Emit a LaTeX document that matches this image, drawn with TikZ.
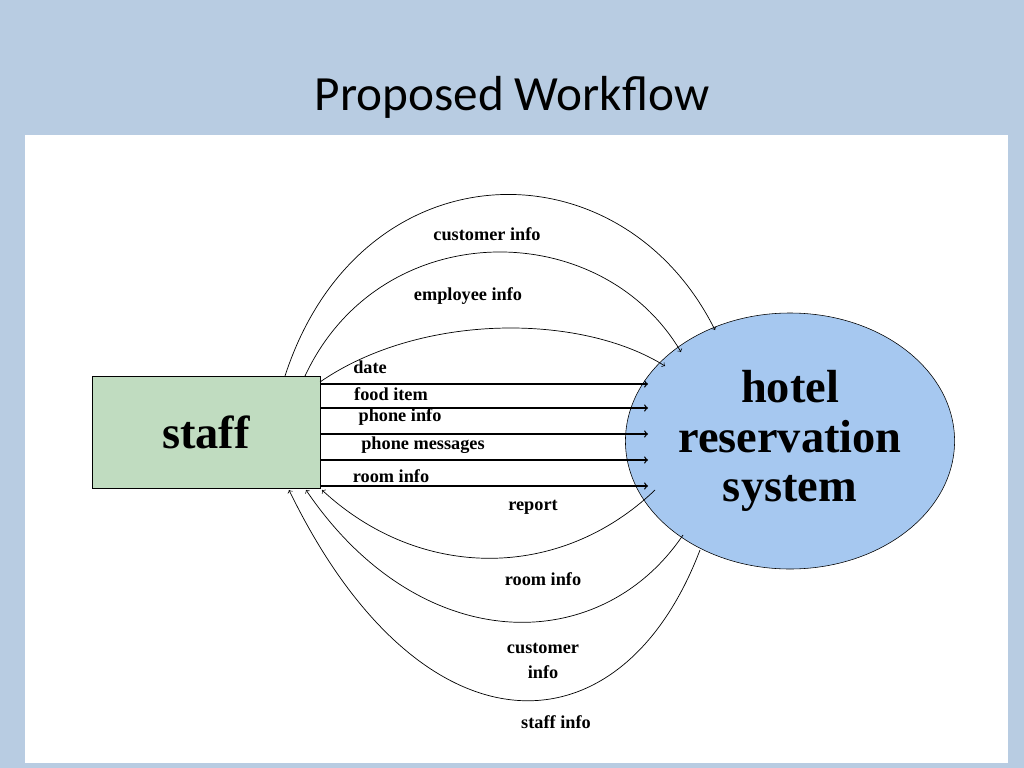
\documentclass[tikz,border=0pt]{standalone}
\usepackage{fontspec}
\setmainfont{Liberation Serif}
\newfontfamily\titlefont{Carlito}
\usetikzlibrary{shapes.geometric}
\definecolor{slideblue}{HTML}{B8CCE2}
\definecolor{staffgreen}{HTML}{C0DCC0}
\definecolor{hotelblue}{HTML}{A6C8F0}
\tikzset{
  flow/.style={->,line width=0.5pt},
  flat/.style={->,line width=0.9pt},
  lbl/.style={font=\bfseries\fontsize{13}{14}\selectfont,inner sep=0pt}
}
\begin{document}
\begin{tikzpicture}[x=0.025cm,y=-0.025cm]
\useasboundingbox (0,0) rectangle (1024,768);
\fill[slideblue] (0,0) rectangle (1024,768);
\fill[white] (25,135) rectangle (1008,763);
\node (title) at (512,97) {\titlefont\fontsize{35}{40}\selectfont Proposed Workflow};

\node[draw,fill=staffgreen,minimum width=228*0.025cm,minimum height=112*0.025cm,
      font=\bfseries\fontsize{33}{36}\selectfont] (staff) at (206,432) {staff};
\node[draw,ellipse,fill=hotelblue,minimum width=300*0.025cm,minimum height=256*0.025cm,
      align=center,font=\bfseries\fontsize{33}{35}\selectfont] (hrs) at (790,441)
      {hotel\\reservation\\system};

% ends on the staff box
\coordinate (s1) at (285,376);
\coordinate (s2) at (305,376);
\coordinate (s3) at (320,382);
\coordinate (b1) at (322,490);
\coordinate (b2) at (306,490);
\coordinate (b3) at (289,490);
% ends on the ellipse
\coordinate (h1) at (715,330);
\coordinate (h2) at (681,352);
\coordinate (h3) at (665,366);
\coordinate (r1) at (655,490);
\coordinate (r2) at (683,535);
\coordinate (r3) at (700,550);

% upper arcs
\draw[flow] (s1) .. controls (360,145) and (620,140) .. (h1);
\draw[flow] (s2) .. controls (380,215) and (600,215) .. (h2);
\draw[flow] (s3) .. controls (420,313) and (580,313) .. (h3);
% straight flows
\foreach \y in {384,408,434,460,486}
  \draw[flat] (320,\y) -- (648,\y);
% lower arcs
\draw[flow] (r1) .. controls (560,581) and (420,581) .. (b1);
\draw[flow] (r2) .. controls (600,658) and (420,658) .. (b2);
\draw[flow] (r3) .. controls (620,760) and (420,760) .. (b3);

\node[lbl] (l1) at (487,234) {customer info};
\node[lbl] (l2) at (468,296) {employee info};
\node[lbl] (l3) at (370,367) {date};
\node[lbl] (l4) at (391,394) {food item};
\node[lbl] (l5) at (400,417) {phone info};
\node[lbl] (l6) at (423,445) {phone messages};
\node[lbl] (l7) at (391,476) {room info};
\node[lbl] (l8) at (533,507) {report};
\node[lbl] (l9) at (543,579) {room info};
\node[lbl,align=center] (l10) at (543,661) {customer\\[4pt]info};
\node[lbl] (l11) at (556,722) {staff info};
\end{tikzpicture}
\end{document}
